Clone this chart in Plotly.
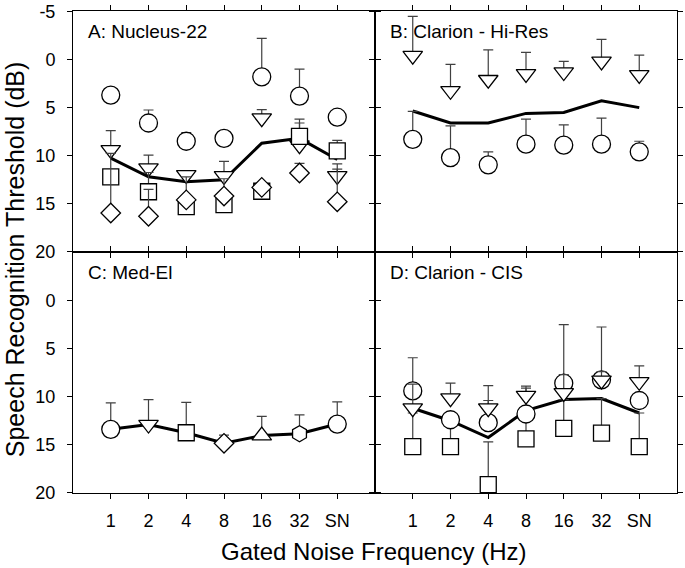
import plotly.graph_objects as go
from plotly.subplots import make_subplots

categories = ["1", "2", "4", "8", "16", "32", "SN"]

# Panel A: Nucleus-22
a_circle = [3.7, 6.6, 8.5, 8.2, 1.8, 3.8, 6.0]
a_circle_err = [0, 1.35, 0.9, 0, 4.0, 2.8, 0]
a_tri = [9.4, 11.3, 12.0, 12.1, 6.1, 8.9, 12.1]
a_tri_err = [2.0, 1.35, 0, 1.5, 0.9, 2.7, 1.25]
a_square = [12.2, 13.75, 15.3, 15.1, 13.7, 8.0, 9.5]
a_square_err = [0, 2.0, 0, 0, 0, 1.4, 1.1]
a_diamond = [15.96, 16.3, 14.6, 14.2, 13.3, 11.8, 14.8]
a_diamond_err = [6.2, 2.8, 2.4, 1.8, 0, 1.0, 3.4]
a_mean = [10.26, 12.2, 12.7, 12.5, 8.7, 8.2, 10.4]

# Panel B: Clarion - Hi-Res
b_tri = [-0.4, 3.25, 2.1, 1.5, 1.3, 0.2, 1.6]
b_tri_err = [4.1, 2.75, 3.1, 2.25, 1.1, 2.3, 2.05]
b_circle = [8.3, 10.2, 10.95, 8.8, 8.9, 8.8, 9.6]
b_circle_err = [2.9, 3.3, 1.35, 2.6, 2.1, 2.7, 1.1]
b_mean = [5.35, 6.6, 6.6, 5.6, 5.5, 4.3, 5.0]

# Panel C: Med-El
c_mean = [13.4, 12.9, 13.75, 14.85, 14.05, 13.85, 12.85]
c_err = [2.75, 2.6, 3.15, 0.85, 2.0, 1.95, 2.3]
c_symbols = ["circle", "triangle-down", "square", "diamond", "triangle-up", "hexagon", "circle"]

# Panel D: Clarion - CIS
d_circle = [9.4, 12.4, 12.7, 11.8, 8.6, 8.25, 10.4]
d_circle_err = [3.45, 0, 3.85, 2.9, 6.1, 5.5, 0]
d_tri = [11.2, 10.15, 11.2, 9.9, 9.6, 8.3, 8.45]
d_tri_err = [2.5, 1.55, 0.8, 0.8, 1.9, 0.9, 1.65]
d_square = [15.2, 15.2, 19.15, 14.4, 13.3, 13.8, 15.2]
d_square_err = [3.5, 2.55, 4.45, 2.7, 3.0, 3.6, 3.5]
d_mean = [11.2, 12.5, 14.25, 11.45, 10.3, 10.2, 11.7]

panel_labels = ["A: Nucleus-22", "B: Clarion - Hi-Res", "C: Med-El", "D: Clarion - CIS"]

yticks_top = [-5, 0, 5, 10, 15, 20]
yticks_top_text = ["-5", "0", "5", "10", "15", "20"]
yticks_bottom = [0, 5, 10, 15, 20]
yticks_bottom_text = ["0", "5", "10", "15", "20"]

FONT = "Liberation Sans, Arial, sans-serif"
ERR_COLOR = "#404040"
SIZES = {"circle": 18, "triangle-down": 17, "triangle-up": 17, "square": 16,
         "diamond": 15, "hexagon": 16}

fig = make_subplots(rows=2, cols=2, horizontal_spacing=0, vertical_spacing=0)


def err(vals):
    return dict(type="data", symmetric=False, array=[0] * len(vals), arrayminus=vals,
                color=ERR_COLOR, thickness=1.2, width=5, visible=True)


def mean_line(y, row, col):
    fig.add_trace(go.Scatter(x=categories, y=y, mode="lines",
                             line=dict(color="black", width=3), showlegend=False,
                             hoverinfo="skip"), row=row, col=col)


def markers(x, y, e, symbol, row, col):
    fig.add_trace(go.Scatter(
        x=x, y=y, mode="markers", error_y=err(e),
        marker=dict(symbol=symbol, size=SIZES[symbol], color="white",
                    line=dict(color="black", width=1.3)),
        showlegend=False), row=row, col=col)


# A
mean_line(a_mean, 1, 1)
markers(categories, a_circle, a_circle_err, "circle", 1, 1)
markers(categories, a_tri, a_tri_err, "triangle-down", 1, 1)
markers(categories, a_square, a_square_err, "square", 1, 1)
markers(categories, a_diamond, a_diamond_err, "diamond", 1, 1)

# B
mean_line(b_mean, 1, 2)
markers(categories, b_circle, b_circle_err, "circle", 1, 2)
markers(categories, b_tri, b_tri_err, "triangle-down", 1, 2)

# C: one marker trace per point (each point has its own symbol)
mean_line(c_mean, 2, 1)
for cat, val, e, sym in zip(categories, c_mean, c_err, c_symbols):
    markers([cat], [val], [e], sym, 2, 1)

# D
mean_line(d_mean, 2, 2)
markers(categories, d_square, d_square_err, "square", 2, 2)
markers(categories, d_circle, d_circle_err, "circle", 2, 2)
markers(categories, d_tri, d_tri_err, "triangle-down", 2, 2)

common_x = dict(type="category", categoryorder="array", categoryarray=categories,
                range=[-1, 7], showgrid=False, zeroline=False,
                showline=True, linecolor="black", linewidth=1, mirror="ticks",
                ticks="outside", ticklen=5, tickcolor="black", tickwidth=1,
                tickfont=dict(family=FONT, size=18, color="black"),
                ticklabelstandoff=6)
common_y = dict(range=[20.02, -5.05], showgrid=False, zeroline=False,
                showline=True, linecolor="black", linewidth=1, mirror="ticks",
                ticks="outside", ticklen=5, tickcolor="black", tickwidth=1,
                tickmode="array", ticklabeloverflow="allow",
                tickfont=dict(family=FONT, size=18, color="black"),
                ticklabelstandoff=8)

for i in range(1, 5):
    row = (i - 1) // 2 + 1
    col = (i - 1) % 2 + 1
    fig.update_xaxes(common_x, showticklabels=(row == 2), row=row, col=col)
    fig.update_yaxes(common_y, showticklabels=(col == 1),
                     tickvals=yticks_top if row == 1 else yticks_bottom,
                     ticktext=yticks_top_text if row == 1 else yticks_bottom_text,
                     row=row, col=col)

annotations = []
for i, lab in enumerate(panel_labels):
    xs = "" if i == 0 else str(i + 1)
    annotations.append(dict(text=lab, xref=f"x{xs} domain", yref=f"y{xs} domain",
                            x=0.042, y=0.915, xanchor="left", yanchor="middle",
                            showarrow=False,
                            font=dict(family=FONT, size=19, color="black")))
annotations.append(dict(text="Speech Recognition Threshold (dB)", xref="paper", yref="paper",
                        x=-0.096, y=0.485, xanchor="center", yanchor="middle", textangle=-90,
                        showarrow=False, font=dict(family=FONT, size=25, color="black")))
annotations.append(dict(text="Gated Noise Frequency (Hz)", xref="paper", yref="paper",
                        x=0.497, y=-0.122, xanchor="center", yanchor="middle",
                        showarrow=False, font=dict(family=FONT, size=24, color="black")))

fig.update_layout(width=685, height=568, margin=dict(l=73, r=2, t=8, b=75),
                  paper_bgcolor="white", plot_bgcolor="rgba(0,0,0,0)",
                  annotations=annotations, showlegend=False)

fig.write_html("out.html", config={"displayModeBar": False},
               post_script="document.body.style.margin='0';document.body.style.padding='0';")
